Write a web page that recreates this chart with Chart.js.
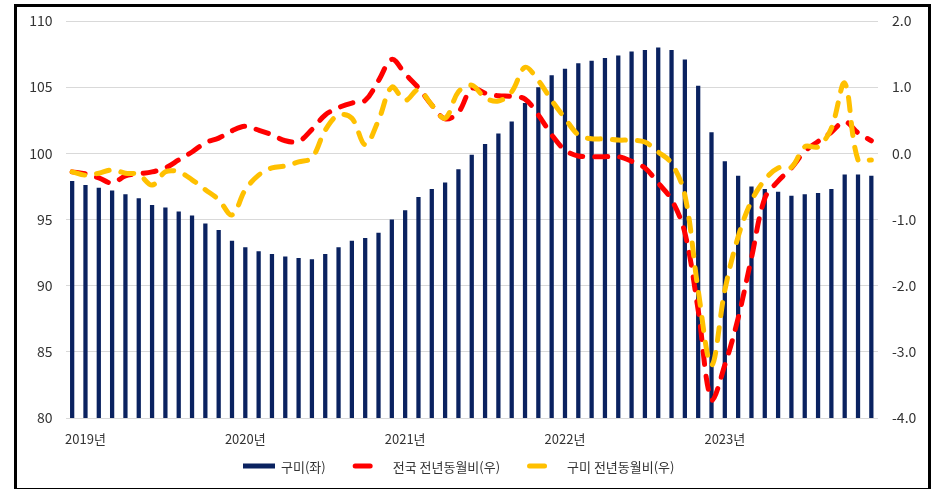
<!DOCTYPE html>
<html>
<head>
    <title>구미 매매가격지수</title>
    <script src="https://cdn.jsdelivr.net/npm/chart.js"></script>
</head>
<body style="margin: 0; background-color: #ffffff; font-family: 'Noto Sans CJK KR', sans-serif;">
    <div style="position: absolute; left: 14px; top: 4px; width: 911px; height: 481px; border: 3px solid #000000;">
        <canvas id="myChart" width="911" height="481"></canvas>
    </div>

    <script>
        // months 2018.12 ~ 2023.12
        var months = [
            '2018.12',
            '2019.01', '2019.02', '2019.03', '2019.04', '2019.05', '2019.06', '2019.07', '2019.08', '2019.09', '2019.10', '2019.11', '2019.12',
            '2020.01', '2020.02', '2020.03', '2020.04', '2020.05', '2020.06', '2020.07', '2020.08', '2020.09', '2020.10', '2020.11', '2020.12',
            '2021.01', '2021.02', '2021.03', '2021.04', '2021.05', '2021.06', '2021.07', '2021.08', '2021.09', '2021.10', '2021.11', '2021.12',
            '2022.01', '2022.02', '2022.03', '2022.04', '2022.05', '2022.06', '2022.07', '2022.08', '2022.09', '2022.10', '2022.11', '2022.12',
            '2023.01', '2023.02', '2023.03', '2023.04', '2023.05', '2023.06', '2023.07', '2023.08', '2023.09', '2023.10', '2023.11', '2023.12'
        ];

        // 구미 지수 (좌)
        var gumiIndex = [
            97.9,
            97.6, 97.4, 97.2, 96.9, 96.6, 96.1, 95.9, 95.6, 95.3, 94.7, 94.2, 93.4,
            92.9, 92.6, 92.4, 92.2, 92.1, 92.0, 92.4, 92.9, 93.4, 93.6, 94.0, 95.0,
            95.7, 96.7, 97.3, 97.8, 98.8, 99.9, 100.7, 101.5, 102.4, 103.8, 105.0, 105.9,
            106.4, 106.8, 107.0, 107.2, 107.4, 107.7, 107.8, 108.0, 107.8, 107.1, 105.1, 101.6,
            99.4, 98.3, 97.5, 97.3, 97.1, 96.8, 96.9, 97.0, 97.3, 98.4, 98.4, 98.3
        ];

        // 전국 전년동월비 (우)
        var nationYoY = [
            -0.28,
            -0.31, -0.37, -0.45, -0.34, -0.31, -0.28, -0.22, -0.10, 0.02, 0.16, 0.23, 0.34,
            0.41, 0.35, 0.28, 0.19, 0.18, 0.36, 0.58, 0.69, 0.76, 0.80, 1.10, 1.42,
            1.20, 0.99, 0.73, 0.52, 0.62, 0.98, 0.91, 0.87, 0.86, 0.82, 0.58, 0.28,
            0.05, -0.04, -0.05, -0.05, -0.05, -0.12, -0.22, -0.45, -0.70, -1.20, -2.37, -3.72,
            -3.20, -2.49, -1.58, -0.68, -0.42, -0.22, 0.03, 0.18, 0.32, 0.48, 0.31, 0.19
        ];

        // 구미 전년동월비 (우)
        var gumiYoY = [
            -0.28,
            -0.33, -0.30, -0.25, -0.30, -0.32, -0.48, -0.28, -0.28, -0.40, -0.55, -0.70, -0.93,
            -0.55, -0.33, -0.22, -0.19, -0.13, -0.07, 0.35, 0.58, 0.53, 0.13, 0.50, 1.00,
            0.80, 0.96, 0.73, 0.53, 0.93, 1.03, 0.84, 0.79, 0.93, 1.30, 1.10, 0.80,
            0.53, 0.28, 0.22, 0.22, 0.20, 0.20, 0.17, 0.02, -0.15, -0.63, -2.07, -3.20,
            -2.07, -1.26, -0.72, -0.40, -0.22, -0.21, 0.10, 0.10, 0.38, 1.06, -0.10, -0.10
        ];

        var seriesNames = ['구미(좌)', '전국 전년동월비(우)', '구미 전년동월비(우)'];
        var navy = '#0a2260';
        var red = '#ff0000';
        var yellow = '#ffc000';
        var fontFamily = "'Noto Sans CJK KR', 'Noto Sans', sans-serif";

        Chart.defaults.font.family = fontFamily;
        Chart.defaults.color = '#333333';

        // legend drawn under the x axis, spaced like the original
        var bottomLegend = {
            id: 'bottomLegend',
            afterDraw: function (chart) {
                var c = chart.ctx;
                var y = chart.height - 22;
                var x = 226;
                c.save();
                c.font = '13px ' + fontFamily;
                c.textBaseline = 'middle';
                chart.data.datasets.forEach(function (ds) {
                    if (ds.type === 'bar') {
                        c.fillStyle = ds.backgroundColor;
                        c.fillRect(x, y - 2.5, 32, 5);
                        x += 32 + 6;
                    } else {
                        x += 27;
                        c.strokeStyle = ds.borderColor;
                        c.lineWidth = 5;
                        c.lineCap = 'round';
                        c.beginPath();
                        c.moveTo(x + 2.5, y);
                        c.lineTo(x + 17.5, y);
                        c.stroke();
                        x += 20 + 20;
                    }
                    c.fillStyle = '#333333';
                    c.fillText(ds.label, x, y + 1);
                    x += c.measureText(ds.label).width;
                });
                c.restore();
            }
        };

        var ctx = document.getElementById('myChart').getContext('2d');
        var myChart = new Chart(ctx, {
            data: {
                labels: months,
                datasets: [
                    {
                        type: 'bar',
                        label: seriesNames[0],
                        data: gumiIndex,
                        backgroundColor: navy,
                        barPercentage: 0.32,
                        categoryPercentage: 1.0,
                        yAxisID: 'y',
                        order: 3
                    },
                    {
                        type: 'line',
                        label: seriesNames[1],
                        data: nationYoY,
                        borderColor: red,
                        borderWidth: 5,
                        borderDash: [13, 12],
                        borderCapStyle: 'round',
                        pointRadius: 0,
                        tension: 0.35,
                        yAxisID: 'y1',
                        order: 2
                    },
                    {
                        type: 'line',
                        label: seriesNames[2],
                        data: gumiYoY,
                        borderColor: yellow,
                        borderWidth: 5,
                        borderDash: [13, 12],
                        borderCapStyle: 'round',
                        pointRadius: 0,
                        tension: 0.35,
                        yAxisID: 'y1',
                        order: 1
                    }
                ]
            },
            plugins: [bottomLegend],
            options: {
                responsive: false,
                animation: false,
                layout: {
                    padding: { top: 14, left: 0, right: 0, bottom: 39 }
                },
                scales: {
                    x: {
                        grid: { display: false },
                        border: { display: false },
                        ticks: {
                            autoSkip: false,
                            maxRotation: 0,
                            padding: 5,
                            font: { size: 13 },
                            color: '#333333',
                            callback: function (value) {
                                var m = this.getLabelForValue(value);
                                if (m.slice(5) === '01') {
                                    return m.slice(0, 4) + '년';
                                }
                                return '';
                            }
                        },
                        afterFit: function (scale) { scale.height = 31; }
                    },
                    y: {
                        position: 'left',
                        min: 80,
                        max: 110,
                        grid: { color: '#d9d9d9', drawTicks: false },
                        border: { display: false },
                        ticks: {
                            stepSize: 5,
                            padding: 13,
                            font: { size: 14 },
                            color: '#333333'
                        },
                        afterFit: function (scale) {
                            scale.width = 48.5;
                            scale.paddingTop = 0;
                            scale.paddingBottom = 0;
                        }
                    },
                    y1: {
                        position: 'right',
                        min: -4,
                        max: 2,
                        grid: { display: false, drawTicks: false },
                        border: { display: false },
                        ticks: {
                            stepSize: 1,
                            padding: 14,
                            font: { size: 14 },
                            color: '#333333',
                            callback: function (value) { return value.toFixed(1); }
                        },
                        afterFit: function (scale) {
                            scale.width = 50;
                            scale.paddingTop = 0;
                            scale.paddingBottom = 0;
                        }
                    }
                },
                plugins: {
                    tooltip: { enabled: false },
                    legend: { display: false }
                }
            }
        });
    </script>
</body>
</html>
